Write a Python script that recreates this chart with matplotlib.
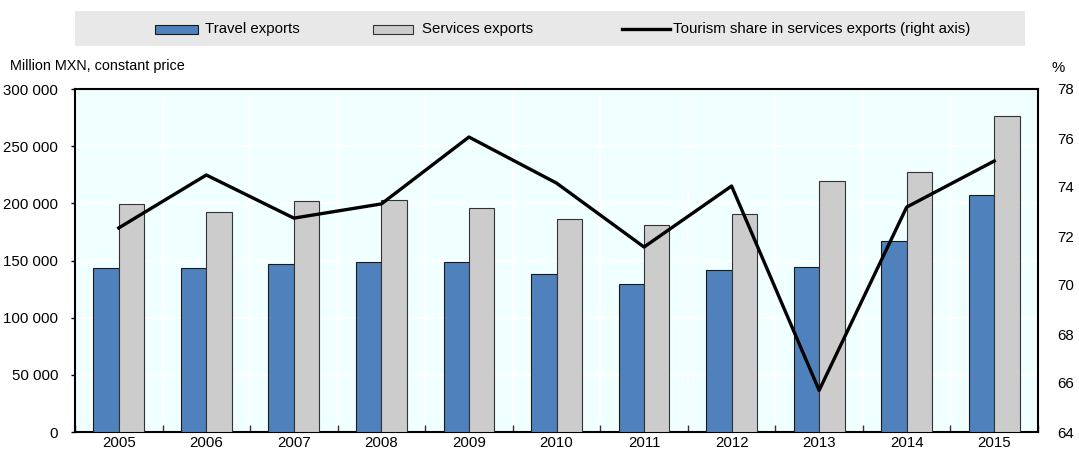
import matplotlib
matplotlib.use("Agg")
import matplotlib.pyplot as plt
import numpy as np
from matplotlib.patches import Rectangle
from matplotlib.lines import Line2D
from matplotlib.ticker import FuncFormatter

years = ["2005", "2006", "2007", "2008", "2009", "2010", "2011", "2012", "2013", "2014", "2015"]
travel = [143800, 143400, 147000, 148700, 148700, 138200, 129400, 141500, 144300, 167000, 207500]
services = [199400, 192400, 202000, 202900, 195900, 186300, 181000, 190700, 219500, 227800, 276400]
share = [72.33, 74.49, 72.73, 73.31, 76.04, 74.16, 71.55, 74.04, 65.70, 73.18, 75.06]
left_ticks = [0, 50000, 100000, 150000, 200000, 250000, 300000]
right_ticks = [64, 66, 68, 70, 72, 74, 76, 78]
labels = ["Travel exports", "Services exports", "Tourism share in services exports (right axis)"]

plt.rcParams["font.family"] = ["Liberation Sans", "DejaVu Sans"]
FS = 10.8

W, H = 1079, 454
fig = plt.figure(figsize=(W / 100, H / 100), dpi=100)
ax = fig.add_axes([75 / W, 1 - 432 / H, (1038 - 75) / W, (432 - 89) / H])
ax.set_facecolor("#F0FFFF")

x = np.arange(len(years))
bw = 0.29
blue = "#4F81BD"
gray = "#CCCCCC"
ax.bar(x - bw / 2, travel, bw, color=blue, edgecolor="#1a1a1a", linewidth=0.8, zorder=3)
ax.bar(x + bw / 2, services, bw, color=gray, edgecolor="#333333", linewidth=0.8, zorder=3)

ax.set_xlim(-0.5, len(years) - 0.5)
ax.set_ylim(0, 300000)
ax.set_yticks(left_ticks)
ax.yaxis.set_major_formatter(FuncFormatter(lambda v, p: f"{int(v):,}".replace(",", " ")))
ax.set_xticks(x)
ax.set_xticklabels(years)
ax.set_xticks(np.arange(-0.5, len(years), 1), minor=True)
ax.tick_params(axis="x", which="major", length=0, labelsize=FS, pad=3)
ax.tick_params(axis="x", which="minor", direction="in", length=5, width=1, color="#333333")
ax.tick_params(axis="y", which="major", direction="out", length=3, width=1, labelsize=FS, pad=9)

ax.grid(False)
for yv in left_ticks[1:-1]:
    ax.axhline(yv, color="white", linewidth=1.5, zorder=1)
for xv in np.arange(0.5, len(years) - 0.5, 1):
    ax.axvline(xv, color="white", linewidth=1.5, zorder=1)

for s in ax.spines.values():
    s.set_linewidth(1.5)
    s.set_color("black")

ax2 = ax.twinx()
ax2.plot(x, share, color="black", linewidth=2.4, zorder=5)
ax2.set_ylim(64, 78)
ax2.set_yticks(right_ticks)
ax2.tick_params(axis="y", length=0, labelsize=FS, pad=14)
for s in ax2.spines.values():
    s.set_visible(False)

fig.text(10 / W, 1 - 66 / H, "Million MXN, constant price", fontsize=10.4, va="center", ha="left")
fig.text(1052 / W, 1 - 68 / H, "%", fontsize=10.8, va="center", ha="left")

# legend (manual, figure coords)
fig.patches.append(Rectangle((75 / W, 1 - 46 / H), (1025 - 75) / W, 35 / H,
                             transform=fig.transFigure, facecolor="#E8E8E8", edgecolor="none", zorder=0))
ly = 1 - 29 / H
fig.patches.append(Rectangle((155 / W, 1 - 34 / H), 43 / W, 9 / H, transform=fig.transFigure,
                             facecolor=blue, edgecolor="#1a1a1a", linewidth=0.8))
fig.text(205 / W, ly, labels[0], fontsize=FS, va="center", ha="left")
fig.patches.append(Rectangle((373 / W, 1 - 34 / H), 40 / W, 9 / H, transform=fig.transFigure,
                             facecolor=gray, edgecolor="#333333", linewidth=0.8))
fig.text(422 / W, ly, labels[1], fontsize=FS, va="center", ha="left")
fig.lines.append(Line2D([622 / W, 670 / W], [ly, ly], transform=fig.transFigure, color="black", linewidth=2.4))
fig.text(673 / W, ly, labels[2], fontsize=FS, va="center", ha="left")

fig.savefig("out.png", dpi=100)
